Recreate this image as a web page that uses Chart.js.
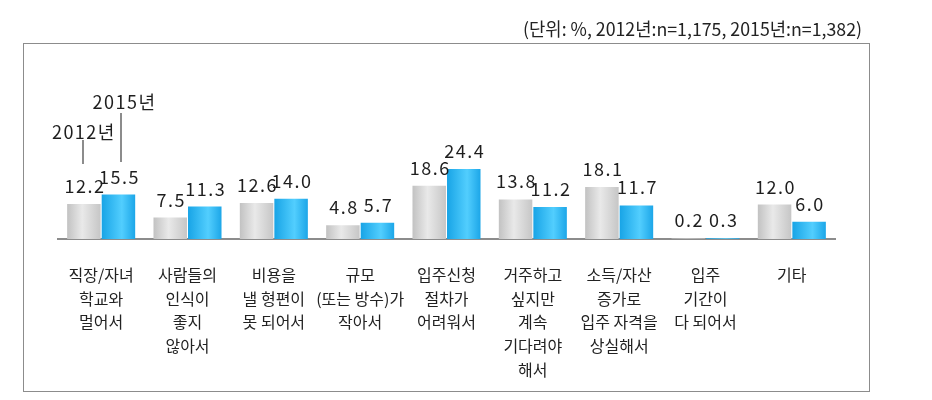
<!DOCTYPE html>
<html>
<head>
<meta charset="utf-8">
<script src="https://cdn.jsdelivr.net/npm/chart.js@4/dist/chart.umd.min.js"></script>
<style>
  html, body { margin: 0; padding: 0; background: #fff; }
  #wrap { width: 932px; height: 400px; position: relative; }
</style>
</head>
<body>
<div id="wrap"><canvas id="reasonChart" width="932" height="400"></canvas></div>
<script>
// categories (multi-line labels) and values
const categories = [
    ['직장/자녀', '학교와', '멀어서'],
    ['사람들의', '인식이', '좋지', '않아서'],
    ['비용을', '낼 형편이', '못 되어서'],
    ['규모', '(또는 방수)가', '작아서'],
    ['입주신청', '절차가', '어려워서'],
    ['거주하고', '싶지만', '계속', '기다려야', '해서'],
    ['소득/자산', '증가로', '입주 자격을', '상실해서'],
    ['입주', '기간이', '다 되어서'],
    ['기타']
];
const seriesNames = ['2012년', '2015년'];
const values2012 = [12.2, 7.5, 12.6, 4.8, 18.6, 13.8, 18.1, 0.2, 12.0];
const values2015 = [15.5, 11.3, 14.0, 5.7, 24.4, 11.2, 11.7, 0.3, 6.0];
const unitNote = '(단위: %, 2012년:n=1,175, 2015년:n=1,382)';

const FONT = '"Noto Sans CJK KR", "Noto Sans", sans-serif';
const CAT_PCT = 0.80;
const BAR_PCT = 0.97;

// horizontal gradient for each bar (gray for 2012, sky blue for 2015)
function barGradient(c, side) {
    const chart = c.chart;
    const xs = chart.scales.x;
    const fallback = side === 0 ? '#d6d6d6' : '#33bbf5';
    if (!xs || c.dataIndex === undefined || !isFinite(xs.width)) return fallback;
    const slot = xs.width / categories.length * CAT_PCT / 2;
    const bw = slot * BAR_PCT;
    const cx = xs.getPixelForValue(c.dataIndex) + (side === 0 ? -slot / 2 : slot / 2);
    if (!isFinite(cx)) return fallback;
    const g = chart.ctx.createLinearGradient(cx - bw / 2, 0, cx + bw / 2, 0);
    if (side === 0) {
        g.addColorStop(0, '#c2c2c2');
        g.addColorStop(0.45, '#e9e9e9');
        g.addColorStop(1, '#c6c6c6');
    } else {
        g.addColorStop(0, '#18a4e6');
        g.addColorStop(0.6, '#52cefe');
        g.addColorStop(1, '#1ca6e8');
    }
    return g;
}

// frame box + unit note
const framePlugin = {
    id: 'frame',
    beforeDraw(chart) {
        const ctx = chart.ctx;
        ctx.save();
        ctx.fillStyle = '#fff';
        ctx.fillRect(0, 0, chart.width, chart.height);
        ctx.strokeStyle = '#8c8c8c';
        ctx.lineWidth = 1;
        ctx.strokeRect(23.5, 43.5, 846, 348);

        ctx.font = '18px "Liberation Sans Narrow", ' + FONT;
        ctx.fillStyle = '#222';
        ctx.textBaseline = 'alphabetic';
        const w = ctx.measureText(unitNote).width;
        const target = 339;
        ctx.translate(862, 36);
        ctx.scale(target / w, 1);
        ctx.textAlign = 'right';
        ctx.fillText(unitNote, 0, 0);
        ctx.restore();
    }
};

// value labels above bars + series callouts on the first group
const labelPlugin = {
    id: 'valueLabels',
    afterDatasetsDraw(chart) {
        const ctx = chart.ctx;
        ctx.save();
        ctx.font = '18px ' + FONT;
        ctx.letterSpacing = '1.5px';
        ctx.fillStyle = '#1e1e1e';
        ctx.textAlign = 'center';
        ctx.textBaseline = 'alphabetic';
        chart.data.datasets.forEach((ds, di) => {
            const meta = chart.getDatasetMeta(di);
            meta.data.forEach((bar, i) => {
                ctx.fillText(ds.data[i].toFixed(1), bar.x + 1, bar.y - 11);
            });
        });

        // callouts "2012년" / "2015년"
        const b0 = chart.getDatasetMeta(0).data[0];
        const b1 = chart.getDatasetMeta(1).data[0];
        ctx.strokeStyle = '#8c8c8c';
        ctx.lineWidth = 2;
        ctx.beginPath();
        ctx.moveTo(Math.round(b0.x) - 1, 140);
        ctx.lineTo(Math.round(b0.x) - 1, 164);
        ctx.moveTo(Math.round(b1.x) + 3, 113);
        ctx.lineTo(Math.round(b1.x) + 3, 162);
        ctx.stroke();
        ctx.fillText(seriesNames[0], b0.x, 139);
        ctx.fillText(seriesNames[1], b1.x + 6, 109);
        ctx.restore();
    }
};

const ctx = document.getElementById('reasonChart').getContext('2d');
const reasonChart = new Chart(ctx, {
    type: 'bar',
    data: {
        labels: categories,
        datasets: [
            {
                label: seriesNames[0],
                data: values2012,
                backgroundColor: c => barGradient(c, 0),
                borderWidth: 0,
                categoryPercentage: CAT_PCT,
                barPercentage: BAR_PCT
            },
            {
                label: seriesNames[1],
                data: values2015,
                backgroundColor: c => barGradient(c, 1),
                borderWidth: 0,
                categoryPercentage: CAT_PCT,
                barPercentage: BAR_PCT
            }
        ]
    },
    options: {
        responsive: false,
        animation: false,
        layout: { padding: { top: 153, left: 58, right: 97, bottom: 0 } },
        plugins: {
            legend: { display: false },
            tooltip: { enabled: false },
            title: { display: false }
        },
        scales: {
            x: {
                grid: { display: false },
                border: { display: true, color: '#8c8c8c', width: 2 },
                ticks: {
                    autoSkip: false,
                    maxRotation: 0,
                    minRotation: 0,
                    padding: 16,
                    color: '#222',
                    font: { family: FONT, size: 16, lineHeight: 1.48 }
                },
                afterFit: s => { s.height = 161; }
            },
            y: {
                display: false,
                min: 0,
                max: 30
            }
        }
    },
    plugins: [framePlugin, labelPlugin]
});
</script>
</body>
</html>
